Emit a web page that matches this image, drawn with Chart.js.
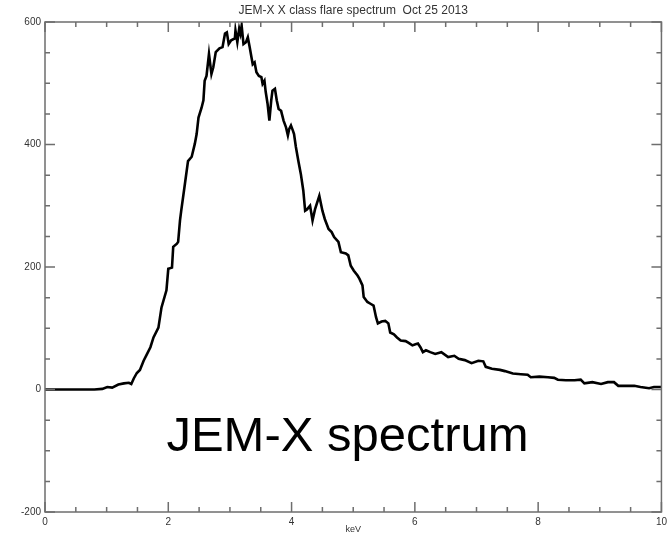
<!DOCTYPE html>
<html>
<head>
<meta charset="utf-8">
<title>JEM-X spectrum</title>
<script src="https://cdn.jsdelivr.net/npm/chart.js@4.4.0/dist/chart.umd.min.js"></script>
<style>
  html, body { margin: 0; padding: 0; background: #fff; }
  #wrap { width: 671px; height: 535px; }
</style>
</head>
<body>
<div id="wrap"><canvas id="grafico" width="671" height="535"></canvas></div>
<script>
const energia = [
  0.0, 0.60, 0.80, 0.93, 1.01, 1.09, 1.19, 1.28, 1.36, 1.40,
  1.44, 1.49, 1.54, 1.60, 1.65, 1.71, 1.76, 1.84, 1.89, 1.97,
  2.00, 2.06, 2.08, 2.14, 2.16, 2.19, 2.21, 2.27, 2.32, 2.38,
  2.43, 2.46, 2.49, 2.54, 2.57, 2.59, 2.62, 2.66, 2.70, 2.73,
  2.77, 2.83, 2.88, 2.92, 2.95, 2.98, 3.02, 3.08, 3.09, 3.12,
  3.15, 3.17, 3.19, 3.22, 3.26, 3.29, 3.32, 3.35, 3.37, 3.40,
  3.43, 3.47, 3.51, 3.53, 3.56, 3.58, 3.61, 3.64, 3.67, 3.69,
  3.73, 3.76, 3.79, 3.83, 3.87, 3.91, 3.94, 3.96, 3.99, 4.02,
  4.04, 4.07, 4.11, 4.15, 4.19, 4.22, 4.25, 4.30, 4.34, 4.38,
  4.45, 4.50, 4.54, 4.60, 4.65, 4.69, 4.76, 4.80, 4.88, 4.92,
  4.96, 5.01, 5.07, 5.10, 5.15, 5.17, 5.23, 5.28, 5.33, 5.37,
  5.40, 5.46, 5.52, 5.57, 5.60, 5.66, 5.71, 5.77, 5.85, 5.90,
  5.96, 6.01, 6.05, 6.09, 6.13, 6.18, 6.25, 6.33, 6.43, 6.54,
  6.64, 6.71, 6.81, 6.92, 7.03, 7.11, 7.15, 7.25, 7.38, 7.46,
  7.59, 7.72, 7.83, 7.88, 8.02, 8.16, 8.26, 8.32, 8.45, 8.59,
  8.69, 8.75, 8.88, 9.02, 9.13, 9.23, 9.30, 9.45, 9.56, 9.66,
  9.80, 9.88, 10.0
];
const contagens = [
  0, 0, 0, 1, 4, 3, 8, 10, 11, 9,
  18, 27, 32, 47, 57, 69, 85, 101, 134, 162,
  197, 199, 233, 238, 241, 276, 292, 336, 373, 380,
  401, 417, 444, 460, 472, 504, 512, 548, 515, 526,
  551, 557, 559, 581, 583, 564, 570, 573, 586, 567,
  589, 581, 594, 564, 567, 575, 559, 542, 531, 534,
  518, 512, 510, 499, 504, 486, 467, 439, 472, 488,
  491, 472, 458, 455, 439, 428, 415, 425, 431, 423,
  417, 396, 373, 352, 325, 292, 294, 300, 276, 294,
  316, 292, 278, 262, 257, 249, 241, 224, 222, 219,
  202, 194, 186, 181, 170, 151, 143, 140, 137, 118,
  108, 111, 112, 108, 93, 90, 85, 80, 79, 76,
  72, 74, 75, 69, 61, 64, 61, 58, 61, 53,
  55, 50, 48, 43, 47, 46, 37, 34, 32, 30,
  26, 25, 24, 20, 21, 20, 19, 16, 15, 15,
  16, 10, 12, 9, 12, 12, 6, 6, 6, 4,
  2, 4, 4
];
const ticksX = [0, 2, 4, 6, 8, 10];
const ticksY = [-200, 0, 200, 400, 600];

const corEixo = "#6e6e6e";
const fonteEixo = { family: "'Liberation Sans', Arial, sans-serif", size: 10 };

// moldura estilo IDL com marcas para dentro + texto grande
const moldura = {
  id: "moldura",
  afterDatasetsDraw(chart) {
    const { ctx, chartArea: a, scales: { x, y } } = chart;
    ctx.save();
    ctx.strokeStyle = corEixo;
    ctx.lineWidth = 1.5;
    ctx.strokeRect(a.left, a.top, a.right - a.left, a.bottom - a.top);
    ctx.beginPath();
    for (let i = 0; i <= 20; i++) {
      const v = i * 0.5;
      const px = x.getPixelForValue(v);
      const len = (i % 4 === 0) ? 10 : 5;
      ctx.moveTo(px, a.bottom); ctx.lineTo(px, a.bottom - len);
      ctx.moveTo(px, a.top); ctx.lineTo(px, a.top + len);
    }
    for (let i = 0; i <= 16; i++) {
      const v = -200 + i * 50;
      const py = y.getPixelForValue(v);
      const len = (i % 4 === 0) ? 10 : 5;
      ctx.moveTo(a.left, py); ctx.lineTo(a.left + len, py);
      ctx.moveTo(a.right, py); ctx.lineTo(a.right - len, py);
    }
    ctx.stroke();

    ctx.fillStyle = "#000";
    ctx.font = "49px 'Liberation Sans', Arial, sans-serif";
    ctx.textBaseline = "alphabetic";
    ctx.fillText("JEM-X spectrum", x.getPixelForValue(1.97), y.getPixelForValue(-100));
    ctx.restore();
  }
};

const ctx = document.getElementById("grafico").getContext("2d");
new Chart(ctx, {
  type: "line",
  data: {
    datasets: [
      {
        label: "JEM-X",
        data: energia.map((e, i) => ({ x: e, y: contagens[i] })),
        borderColor: "#000",
        borderWidth: 2.6,
        pointRadius: 0,
        tension: 0,
        fill: false
      }
    ]
  },
  options: {
    responsive: false,
    animation: false,
    layout: { padding: { top: 0, right: 9, left: 0, bottom: 0 } },
    plugins: {
      legend: { display: false },
      tooltip: { enabled: false },
      title: {
        display: true,
        fullSize: false,
        text: "JEM-X X class flare spectrum  Oct 25 2013",
        color: "#333",
        font: { family: "'Liberation Sans', Arial, sans-serif", size: 12, weight: "normal", lineHeight: 1.2 },
        padding: { top: 3, bottom: 4.6 }
      }
    },
    scales: {
      x: {
        type: "linear",
        min: 0,
        max: 10,
        afterFit: (s) => { s.height = 23; },
        afterBuildTicks: (s) => { s.ticks = ticksX.map(v => ({ value: v })); },
        grid: { display: false, drawTicks: false, tickLength: 0 },
        border: { display: false },
        ticks: { color: "#333", font: fonteEixo, padding: 4, maxRotation: 0 },
        title: {
          display: true,
          text: "keV",
          color: "#333",
          font: { family: "'Liberation Sans', Arial, sans-serif", size: 9 },
          padding: { top: 0, bottom: 0 }
        }
      },
      y: {
        min: -200,
        max: 600,
        afterFit: (s) => { s.width = 45; },
        afterBuildTicks: (s) => { s.ticks = ticksY.map(v => ({ value: v })); },
        grid: { display: false, drawTicks: false, tickLength: 0 },
        border: { display: false },
        ticks: { color: "#333", font: fonteEixo, padding: 4 }
      }
    }
  },
  plugins: [moldura]
});
</script>
</body>
</html>
